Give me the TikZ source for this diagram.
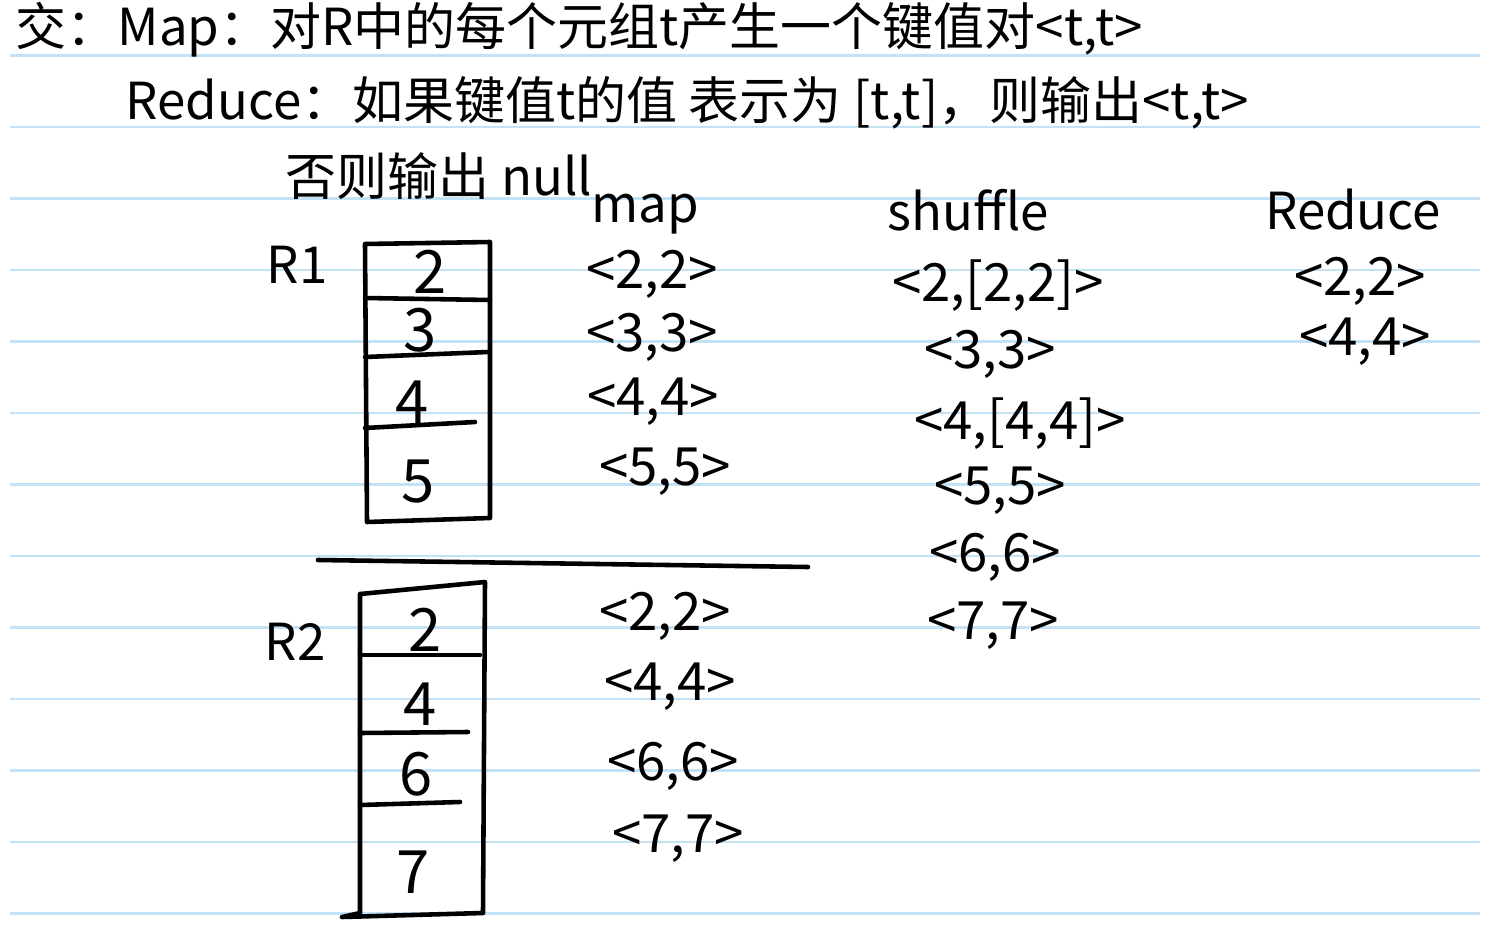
\documentclass[tikz,border=0pt]{standalone}
\usepackage{fontspec}
\setmainfont{Noto Sans CJK SC}
\usetikzlibrary{positioning}

\definecolor{ruleblue}{RGB}{196,226,246}
\tikzset{
  ruled/.style={line width=0.7pt, color=ruleblue},
  ink/.style={line width=1.3pt, line cap=round, line join=round},
  hand/.style={inner sep=0pt, font=\fontsize{14.5}{16}\selectfont},
  pair/.style={inner sep=0pt, font=\fontsize{15}{17}\selectfont},
  cell/.style={inner sep=0pt, font=\fontsize{17}{19}\selectfont},
}

\begin{document}
\begin{tikzpicture}[x=0.01cm,y=-0.01cm]
\useasboundingbox (0,0) rectangle (1487,939);
\fill[white] (0,0) rectangle (1487,939);
% notebook lines
\foreach \y in {55.5,127,198.5,270,341.5,413,484.5,556,627.5,699,770.5,842,913.5}
  \draw[ruled] (10,\y) -- (1480,\y);

% question text
\node[hand, anchor=west] (line1) at (15,30) {交：Map：对R中的每个元组t产生一个键值对<t,t>};
\node[hand, anchor=west] (line2) at (125,103) {Reduce：如果键值t的值 表示为 [t,t]，则输出<t,t>};
\node[hand, anchor=west] (line3) at (285,176) {否则输出 null};

% column heads
\node[hand] (maphead) at (645,214) {map};
\node[hand] (shufhead) at (968,210) {shuffle};
\node[hand] (redhead) at (1353,210) {Reduce};

% R1
\node[hand] (r1) at (297,265) {R1};
\draw[ink] (365,244) -- (490,242) -- (490,518) -- (367,522) -- cycle;
\draw[ink] (365,298) -- (490,300);
\draw[ink] (365,357) -- (488,352);
\draw[ink] (365,428) -- (475,422);
\node[cell] (r1a) at (430,272) {2};
\node[cell] (r1b) at (420,330) {3};
\node[cell] (r1c) at (412,402) {4};
\node[cell] (r1d) at (418,482) {5};

% divider
\draw[ink] (318,560) -- (808,567);

% R2
\node[hand] (r2) at (295,642) {R2};
\draw[ink] (360,594) -- (485,582) -- (483,913) -- (342,917) -- (360,913) -- cycle;
\draw[ink] (360,655) -- (480,655);
\draw[ink] (360,733) -- (468,732);
\draw[ink] (360,805) -- (460,802);
\node[cell] (r2a) at (425,630) {2};
\node[cell] (r2b) at (420,704) {4};
\node[cell] (r2c) at (416,774) {6};
\node[cell] (r2d) at (413,872) {7};

% map output
\node[pair] (m1) at (652,274) {<2,2>};
\node[pair] (m2) at (652,337) {<3,3>};
\node[pair] (m3) at (653,402) {<4,4>};
\node[pair] (m4) at (665,472) {<5,5>};
\node[pair] (m5) at (665,616) {<2,2>};
\node[pair] (m6) at (670,687) {<4,4>};
\node[pair] (m7) at (673,766) {<6,6>};
\node[pair] (m8) at (678,839) {<7,7>};

% shuffle output
\node[pair] (s1) at (998,286) {<2,[2,2]>};
\node[pair] (s2) at (990,354) {<3,3>};
\node[pair] (s3) at (1020,424) {<4,[4,4]>};
\node[pair] (s4) at (1000,491) {<5,5>};
\node[pair] (s5) at (995,557) {<6,6>};
\node[pair] (s6) at (993,626) {<7,7>};

% reduce output
\node[pair] (d1) at (1360,281) {<2,2>};
\node[pair] (d2) at (1365,342) {<4,4>};
\end{tikzpicture}
\end{document}
